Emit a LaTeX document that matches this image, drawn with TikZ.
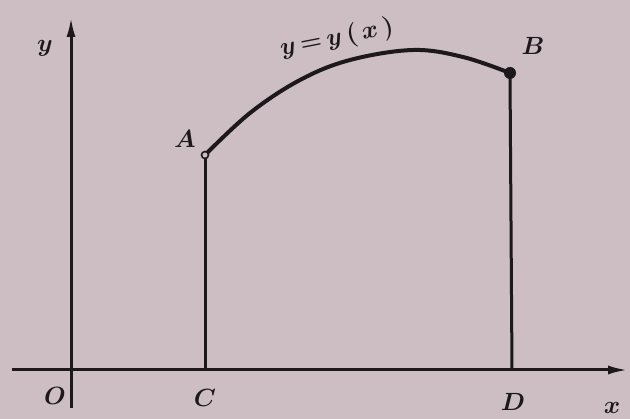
\documentclass[tikz,border=0pt]{standalone}
\usetikzlibrary{arrows.meta}
\definecolor{paper}{RGB}{204,190,194}
\definecolor{ink}{RGB}{28,24,28}
\begin{document}
\begin{tikzpicture}[x=1pt,y=-1pt,
  axis/.style={draw=ink,line width=3pt,-{Latex[length=20pt,width=9pt]}},
  vline/.style={draw=ink,line width=3pt},
  curve/.style={draw=ink,line width=4pt},
  lbl/.style={text=ink,font=\fontsize{28}{32}\selectfont\boldmath,inner sep=0pt}]
\fill[paper] (0,0) rectangle (630,419);
\useasboundingbox (0,0) rectangle (630,419);
% points
\coordinate (xs) at (12,370);
\coordinate (xe) at (628,370);
\coordinate (ys) at (71,408);
\coordinate (ye) at (71,17);
\coordinate (A) at (205,155);
\coordinate (B) at (510,73);
\coordinate (C) at (205,370);
\coordinate (D) at (512,370);
% axes
\draw[axis] (xs) -- (xe);
\draw[axis] (ys) -- (ye);
% verticals
\draw[vline] (A) -- (C);
\draw[vline] (B) -- (D);
% curve
\draw[curve] plot[smooth,tension=0.6] coordinates {(205,155) (250,113) (300,80) (350,60) (413,50) (463,57) (510,73)};
% points
\fill[ink] (B) circle (6pt);
\filldraw[fill=paper,draw=ink,line width=1.6pt] (A) circle (3.5pt);
% labels
\node[lbl] (ly) at (45,48) {$y$};
\node[lbl] (lx) at (612,408) {$x$};
\node[lbl] (lO) at (55,396) {$O$};
\node[lbl] (lC) at (205,398) {$C$};
\node[lbl] (lD) at (513,402) {$D$};
\node[lbl] (lA) at (185,139) {$A$};
\node[lbl] (lB) at (533,46) {$B$};
\node[lbl,font=\fontsize{25}{30}\selectfont\boldmath,rotate=11] (lcurve) at (337,38) {$y\,{=}\,y\,(\,x\,)$};
\end{tikzpicture}
\end{document}
